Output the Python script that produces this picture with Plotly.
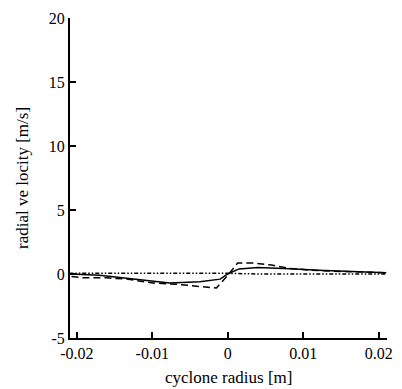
import plotly.graph_objects as go

# Data
solid_x = [-0.021, -0.017, -0.0116, -0.0077, -0.0037, -0.001, 0.0, 0.0015, 0.004, 0.007, 0.009, 0.012, 0.016, 0.021]
solid_y = [0.0, -0.1, -0.45, -0.7, -0.6, -0.4, 0.0, 0.4, 0.5, 0.45, 0.4, 0.3, 0.2, 0.1]

dashed_x = [-0.0207, -0.0192, -0.016, -0.0134, -0.0099, -0.0068, -0.0033, -0.0015, 0.0, 0.0013, 0.0036, 0.0058, 0.008, 0.0109, 0.015, 0.021]
dashed_y = [-0.2, -0.3, -0.3, -0.4, -0.7, -0.8, -1.0, -1.1, -0.1, 0.85, 0.85, 0.7, 0.45, 0.3, 0.2, 0.1]

dotted_x = [-0.021, -0.016, -0.012, -0.008, -0.004, 0.0, 0.004, 0.008, 0.012, 0.016, 0.021]
dotted_y = [0.05, 0.05, 0.1, 0.1, 0.1, 0.05, 0.0, 0.0, 0.0, -0.05, 0.0]

x_ticks = [-0.02, -0.01, 0, 0.01, 0.02]
x_tick_labels = ["-0.02", "-0.01", "0", "0.01", "0.02"]
y_ticks = [-5, 0, 5, 10, 15, 20]
y_tick_labels = ["-5", "0", "5", "10", "15", "20"]

font_family = "'Times New Roman', 'Liberation Serif', 'DejaVu Serif', serif"

fig = go.Figure()
fig.add_trace(go.Scatter(x=dotted_x, y=dotted_y, mode="lines",
                         line=dict(color="black", width=1.5, dash="4px,2px,1.5px,2px,1.5px,2px")))
fig.add_trace(go.Scatter(x=dashed_x, y=dashed_y, mode="lines",
                         line=dict(color="black", width=1.5, dash="7px,4px")))
fig.add_trace(go.Scatter(x=solid_x, y=solid_y, mode="lines",
                         line=dict(color="black", width=1.5)))

fig.update_layout(
    width=402, height=389,
    margin=dict(l=70, r=15, t=18, b=51),
    paper_bgcolor="white", plot_bgcolor="white",
    showlegend=False,
    font=dict(family=font_family, size=16, color="black"),
    xaxis=dict(range=[-0.0209, 0.0211], tickvals=x_ticks, ticktext=x_tick_labels,
               ticks="inside", ticklen=6, tickwidth=1.5, tickcolor="black",
               showline=True, linecolor="black", linewidth=2, showgrid=False, zeroline=False,
               automargin=False,
               tickfont=dict(family=font_family, size=16)),
    yaxis=dict(range=[-5, 20], tickvals=y_ticks, ticktext=y_tick_labels,
               ticks="inside", ticklen=6, tickwidth=1.5, tickcolor="black",
               showline=True, linecolor="black", linewidth=2, showgrid=False, zeroline=False,
               automargin=False,
               tickfont=dict(family=font_family, size=16)),
    annotations=[
        dict(text="cyclone radius [m]", xref="paper", yref="paper", x=0.5, y=0,
             yshift=-39, yanchor="middle", xanchor="center", showarrow=False,
             font=dict(family=font_family, size=17)),
        dict(text="radial ve locity [m/s]", xref="paper", yref="paper", x=0, y=0.5,
             xshift=-48, xanchor="center", yanchor="middle", textangle=-90, showarrow=False,
             font=dict(family=font_family, size=17)),
    ],
)

fig.write_html("out.html")
